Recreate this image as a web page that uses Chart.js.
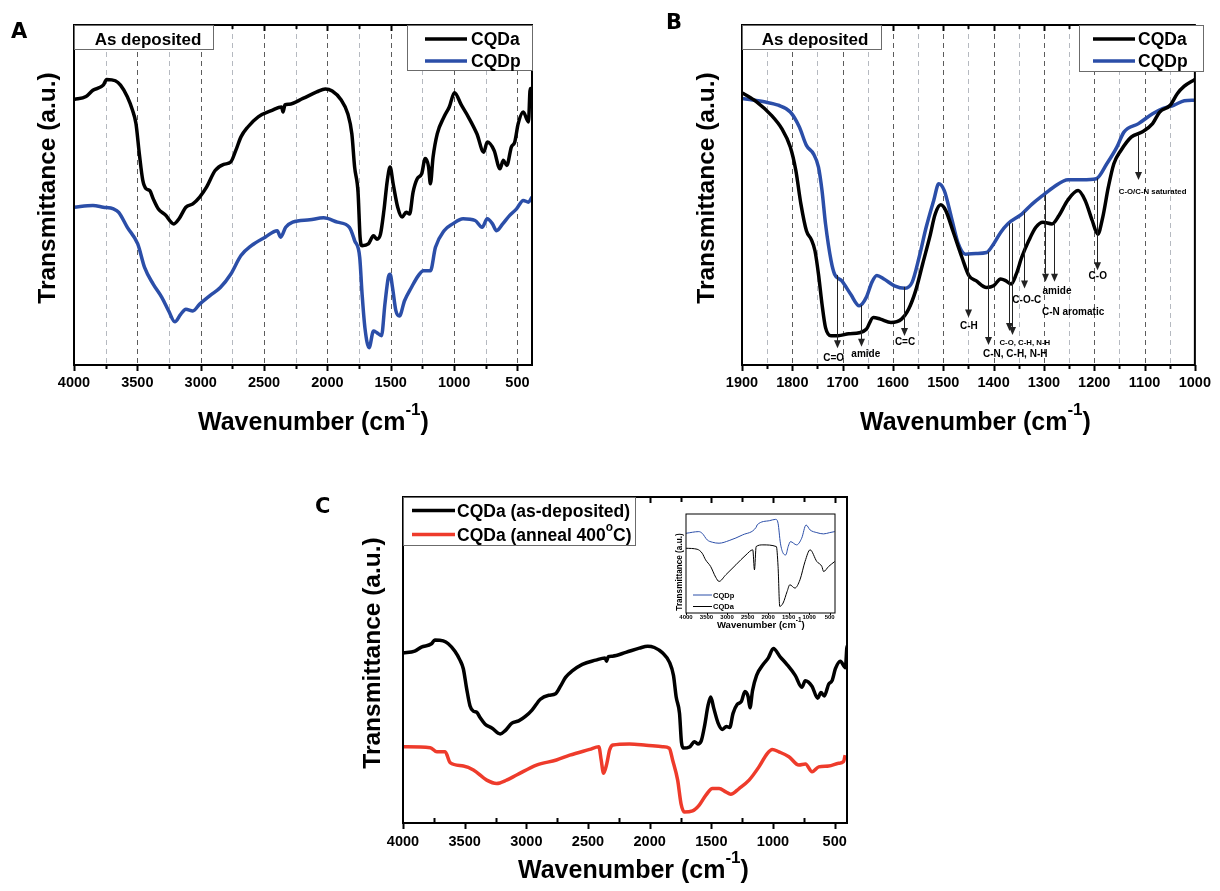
<!DOCTYPE html>
<html>
<head>
<meta charset="utf-8">
<script src="https://cdn.jsdelivr.net/npm/chart.js@4.4.0/dist/chart.umd.min.js"></script>
<style>
body { margin: 0; background: #fff; }
#page { position: relative; width: 1220px; height: 891px; }
#page canvas { position: absolute; left: 0; top: 0; }
</style>
</head>
<body>
<div id="page">
<canvas id="chartA" width="1220" height="891"></canvas>
<canvas id="chartB" width="1220" height="891"></canvas>
<canvas id="chartC" width="1220" height="891"></canvas>
<canvas id="chartInset" width="1220" height="891"></canvas>
</div>
<script>
// ---- tick labels
var ticksWide = [4000, 3500, 3000, 2500, 2000, 1500, 1000, 500];
var ticksNarrow = [1900, 1800, 1700, 1600, 1500, 1400, 1300, 1200, 1100, 1000];

// ---- panel A (and C black): CQDa as deposited, wavenumber / transmittance (a.u.)
var waveA_cqda = [4000, 3905, 3851, 3769, 3742, 3674, 3633, 3579, 3538, 3511, 3484, 3457, 3430, 3402, 3375, 3334, 3280, 3212, 3171, 3117, 3062, 3008, 2954, 2886, 2818, 2763, 2723, 2682, 2628, 2546, 2437, 2362, 2350, 2335, 2302, 2193, 2084, 2016, 1962, 1894, 1839, 1807, 1785, 1758, 1742, 1726, 1677, 1636, 1609, 1581, 1554, 1527, 1505, 1481, 1445, 1410, 1378, 1351, 1324, 1291, 1256, 1228, 1201, 1187, 1166, 1133, 1079, 1038, 997, 942, 888, 820, 766, 738, 684, 638, 611, 584, 548, 521, 494, 454, 413, 399, 385];
var transA_cqda = [78.1, 79, 80.8, 82.3, 84, 83.6, 82.3, 78.9, 74.9, 71, 62, 54.3, 51.8, 51.3, 48.9, 45.9, 44.2, 41.5, 43, 46.4, 47.4, 49.4, 52.3, 57.2, 59, 59.7, 63.1, 67.1, 70, 73, 74.9, 75.9, 74.4, 76.5, 76.7, 78.4, 80.3, 81.2, 80.6, 78.1, 73.9, 68, 58.2, 50.8, 37.6, 35.1, 35.6, 38, 37, 38.5, 45.4, 54.3, 58.2, 53.3, 46.4, 43.5, 44.9, 44.4, 50.8, 54.8, 56.2, 60.7, 58.2, 53.3, 61.1, 68, 73, 75.9, 80.1, 76.4, 73, 68, 62.6, 65.6, 63.1, 57.7, 60.2, 58.7, 64.1, 65.6, 71, 74.4, 71.5, 81.3, 80];

// ---- panel A: CQDp
var waveA_cqdp = [4000, 3851, 3769, 3688, 3647, 3579, 3497, 3443, 3375, 3307, 3253, 3204, 3158, 3117, 3062, 3008, 2927, 2845, 2763, 2682, 2600, 2491, 2396, 2369, 2329, 2274, 2139, 2030, 1921, 1826, 1785, 1745, 1726, 1704, 1671, 1636, 1609, 1573, 1546, 1519, 1505, 1486, 1459, 1432, 1391, 1337, 1282, 1242, 1187, 1147, 1079, 1011, 929, 834, 779, 738, 697, 665, 616, 561, 507, 454, 413, 385];
var transA_cqdp = [46.4, 46.9, 46.4, 45.9, 44.9, 40.5, 35.6, 28.7, 23.8, 19.9, 15.9, 12.7, 14.9, 16.4, 15.9, 17.9, 20.4, 22.8, 26.7, 32.2, 35.1, 37.6, 39.5, 37.6, 40.5, 42, 42.7, 43.3, 42, 40.5, 36.6, 31.7, 20.8, 11, 5.1, 10, 9.5, 8.6, 17.9, 25.8, 26.7, 22.8, 15.9, 14.4, 18.9, 22.8, 26.3, 27.7, 27.7, 34.6, 39.5, 41.5, 43, 42.5, 40.5, 43, 41.5, 39.5, 41.5, 44, 45.9, 48.4, 47.9, 49.4];

// ---- panel B: 1900-1000 cm-1
var waveB_cqda = [1899, 1871, 1842, 1821, 1804, 1793, 1783, 1772, 1762, 1755, 1748, 1741, 1734, 1723, 1709, 1688, 1667, 1653, 1639, 1625, 1604, 1583, 1569, 1555, 1541, 1527, 1516, 1505, 1495, 1481, 1463, 1449, 1435, 1414, 1400, 1386, 1376, 1365, 1355, 1344, 1330, 1316, 1302, 1284, 1270, 1253, 1232, 1218, 1204, 1193, 1183, 1172, 1161, 1147, 1126, 1105, 1084, 1070, 1049, 1035, 1021, 1000];
var transB_cqda = [80, 77.4, 73.5, 69.5, 64.1, 57.2, 47.4, 39.5, 36.8, 33.6, 26.7, 17.9, 11, 8.6, 8.6, 9.2, 9.5, 10.5, 14, 13.5, 12.5, 13.5, 16.4, 21.8, 29.7, 37.6, 44.4, 47.1, 45.4, 39.5, 31.7, 26.3, 24.8, 22.8, 23.3, 25.3, 24.8, 23.8, 26.7, 31.7, 36.6, 40.5, 42, 41.5, 44, 48.4, 51.3, 48.4, 42.5, 38.5, 43.5, 52.3, 59.2, 63.1, 67.1, 68.5, 71, 74.4, 76.4, 79.8, 82, 84];
var waveB_cqdp = [1899, 1856, 1828, 1804, 1786, 1772, 1758, 1748, 1741, 1734, 1723, 1716, 1702, 1684, 1667, 1653, 1642, 1632, 1618, 1597, 1576, 1562, 1548, 1534, 1519, 1509, 1498, 1484, 1470, 1456, 1435, 1414, 1400, 1386, 1372, 1344, 1323, 1302, 1281, 1252, 1224, 1196, 1175, 1155, 1141, 1112, 1084, 1063, 1042, 1021, 1000];
var transB_cqdp = [78.4, 77.4, 76.4, 74.4, 70, 64.6, 62.1, 58.2, 51.3, 41.5, 30.7, 26.7, 24.8, 20.8, 17.4, 19.9, 24.3, 26.3, 25.3, 23.3, 22.6, 24.3, 31.7, 40.5, 48.4, 53.3, 51.3, 43.5, 35.6, 32.6, 32.8, 33.1, 35.6, 39, 41.5, 44.4, 47.4, 49.9, 52.3, 54.5, 54.5, 54.8, 59.2, 64.1, 68.5, 71, 73.9, 75.5, 76.4, 77.7, 77.9];

// ---- panel B: band assignments (arrow at wavenumber, from / to transmittance)
var bandWave = [1711, 1663, 1578, 1450, 1411, 1369, 1363, 1339, 1298, 1279, 1194, 1114];
var bandFrom = [26.5, 17.6, 23, 32.4, 33.3, 41.7, 41.7, 45.1, 50, 41.7, 54.9, 67.6];
var bandTo = [4.9, 5.4, 8.5, 14, 5.9, 10, 8.8, 22.5, 24.5, 24.5, 27.9, 54.4];
var bandLabel = ['C=O', 'amide', 'C=C', 'C-H', 'C-N, C-H, N-H', 'C-O, C-H, N-H', 'C-O-C', 'amide', 'C-N aromatic', 'C-O', 'C-O/C-N saturated'];
var bandLabelWave = [1718, 1654, 1576, 1449, 1357, 1338, 1334, 1274, 1242, 1193, 1084];
var bandLabelY = [2, 3.1, 6.7, 11.3, 3.2, 6.6, 18.9, 21.8, 15.4, 26, 50.8];
var bandLabelSmall = [0, 0, 0, 0, 0, 1, 0, 0, 0, 0, 1];

// ---- panel C: CQDa annealed 400 C
var waveC_anneal = [4000, 3779, 3725, 3658, 3618, 3510, 3429, 3321, 3241, 3160, 3079, 2918, 2756, 2648, 2487, 2412, 2393, 2374, 2347, 2325, 2298, 2164, 2029, 1895, 1841, 1814, 1773, 1746, 1720, 1652, 1598, 1544, 1491, 1437, 1383, 1343, 1275, 1194, 1114, 1047, 1006, 952, 871, 790, 737, 683, 629, 548, 468, 428, 415];
var transC_anneal = [35.7, 35.3, 33.4, 33.4, 28.5, 27, 25.2, 20.6, 19.1, 20.6, 22.9, 27.4, 29.7, 31.9, 34.5, 35.7, 29.7, 23.7, 28.2, 34.2, 36.5, 37, 36.4, 35.7, 35, 29.7, 20.6, 10, 6.2, 6.7, 9.3, 13.8, 16.8, 16.8, 15.3, 14.2, 16.8, 20.6, 26.6, 32.6, 34.5, 33.4, 31.2, 27.4, 27.9, 24.4, 26.6, 27, 28.2, 29, 31.9];

// ---- inset of panel C
var waveIn_cqdp = [4000, 3688, 3606, 3482, 3359, 3195, 2948, 2620, 2291, 2266, 1962, 1815, 1757, 1700, 1634, 1569, 1511, 1453, 1305, 1182, 1075, 977, 813, 648, 500, 377];
var transIn_cqdp = [80.5, 82.2, 80.5, 73.8, 71.5, 70.5, 73.2, 78.9, 86.6, 89, 93.3, 94.6, 90.6, 70.5, 60.4, 58.7, 67.1, 72.1, 68.8, 75.5, 88.9, 83.9, 81.2, 79.9, 81.2, 82.2];
var waveIn_cqda = [4000, 3729, 3606, 3523, 3400, 3277, 3195, 3030, 2784, 2538, 2373, 2332, 2291, 2127, 1799, 1757, 1716, 1634, 1536, 1470, 1347, 1223, 1100, 977, 813, 690, 648, 525, 377];
var transIn_cqda = [65.4, 64.4, 60.4, 53.7, 47, 36.2, 31.9, 38.6, 48.7, 58.7, 63.8, 43.6, 67.1, 68.8, 67.1, 47, 6.7, 10.1, 21.8, 28.5, 25.2, 33.6, 52, 63.8, 52, 47, 41.9, 47, 52];

var FONT = "'Liberation Sans', Arial, sans-serif";
var BLACK = '#000000', BLUE = '#2b4ea8', RED = '#ee3b2b';

function pts(xs, ys) {
    return xs.map(function (x, i) { return { x: x, y: ys[i] }; });
}

function drawRich(ctx, parts, x, y, size, align, raise) {
    var widths = parts.map(function (p) {
        ctx.font = 'bold ' + (p[1] ? size * 0.68 : size) + 'px ' + FONT;
        return ctx.measureText(p[0]).width;
    });
    var total = widths.reduce(function (a, b) { return a + b; }, 0);
    var cx = align === 'center' ? x - total / 2 : x;
    ctx.textAlign = 'left';
    ctx.textBaseline = 'alphabetic';
    parts.forEach(function (p, i) {
        ctx.font = 'bold ' + (p[1] ? size * 0.68 : size) + 'px ' + FONT;
        ctx.fillText(p[0], cx, p[1] ? y - size * (raise || 0.6) : y);
        cx += widths[i];
    });
}

var panelPlugin = {
    id: 'panel',
    beforeDatasetsDraw: function (chart, args, o) {
        if (!o.gridStep) return;
        var ctx = chart.ctx, area = chart.chartArea, xs = chart.scales.x;
        ctx.save();
        ctx.lineWidth = 1;
        ctx.setLineDash([5, 4]);
        var start = Math.floor(xs.max / o.gridStep) * o.gridStep;
        for (var w = start; w > xs.min; w -= o.gridStep) {
            if (w >= xs.max) continue;
            var px = Math.round(xs.getPixelForValue(w)) + 0.5;
            ctx.strokeStyle = (w % o.gridMajor === 0) ? '#5c5c5c' : '#b5b9c0';
            ctx.beginPath();
            ctx.moveTo(px, area.top);
            ctx.lineTo(px, area.bottom);
            ctx.stroke();
        }
        ctx.restore();
    },
    afterDraw: function (chart, args, o) {
        var ctx = chart.ctx, area = chart.chartArea, xs = chart.scales.x, ys = chart.scales.y;
        ctx.save();
        ctx.fillStyle = '#000';
        ctx.strokeStyle = '#000';

        // tick marks
        ctx.lineWidth = o.tickWidth;
        var start = Math.floor(xs.max / o.tickStep) * o.tickStep;
        for (var w = start; w >= xs.min; w -= o.tickStep) {
            var px = Math.round(xs.getPixelForValue(w)) + 0.5;
            var major = (w % o.majorStep === 0);
            ctx.beginPath();
            if (major || !o.minorInside) {
                ctx.moveTo(px, area.bottom);
                ctx.lineTo(px, area.bottom + (major ? o.tickMajor : o.tickMinor));
            } else {
                ctx.moveTo(px, area.bottom);
                ctx.lineTo(px, area.bottom - o.tickMinor);
            }
            if (o.topTicks) {
                ctx.moveTo(px, area.top);
                ctx.lineTo(px, area.top + (major ? o.tickMajor : o.tickMinor));
            }
            ctx.stroke();
        }

        // frame
        ctx.lineWidth = o.frameWidth;
        ctx.strokeRect(area.left, area.top, area.right - area.left, area.bottom - area.top);

        // band assignment arrows
        if (o.bands) {
            ctx.lineWidth = 1;
            ctx.strokeStyle = '#222';
            ctx.fillStyle = '#222';
            bandWave.forEach(function (b, i) {
                var x = Math.round(xs.getPixelForValue(b)) + 0.5;
                var y0 = ys.getPixelForValue(bandFrom[i]);
                var y1 = ys.getPixelForValue(bandTo[i]);
                ctx.beginPath();
                ctx.moveTo(x, y0);
                ctx.lineTo(x, y1 - 7);
                ctx.stroke();
                ctx.beginPath();
                ctx.moveTo(x - 3.5, y1 - 8);
                ctx.lineTo(x + 3.5, y1 - 8);
                ctx.lineTo(x, y1);
                ctx.closePath();
                ctx.fill();
            });
            ctx.fillStyle = '#000';
            ctx.textAlign = 'center';
            ctx.textBaseline = 'middle';
            bandLabel.forEach(function (t, i) {
                ctx.font = 'bold ' + (bandLabelSmall[i] ? 7.8 : 10) + 'px ' + FONT;
                ctx.fillText(t, xs.getPixelForValue(bandLabelWave[i]), ys.getPixelForValue(bandLabelY[i]));
            });
        }

        // caption boxes
        (o.boxes || []).forEach(function (b) {
            ctx.fillStyle = '#fff';
            ctx.fillRect(b.x0, b.y0, b.x1 - b.x0, b.y1 - b.y0);
            ctx.strokeStyle = '#6b6b6b';
            ctx.lineWidth = 1;
            ctx.strokeRect(b.x0 + 0.5, b.y0 + 0.5, b.x1 - b.x0, b.y1 - b.y0);
            ctx.fillStyle = '#000';
            ctx.font = 'bold ' + b.size + 'px ' + FONT;
            ctx.textAlign = 'center';
            ctx.textBaseline = 'alphabetic';
            ctx.fillText(b.text, b.tx, b.ty);
        });

        // legend
        var lg = o.legend;
        if (lg) {
            if (lg.box) {
                ctx.fillStyle = '#fff';
                ctx.fillRect(lg.box[0], lg.box[1], lg.box[2] - lg.box[0], lg.box[3] - lg.box[1]);
                ctx.strokeStyle = '#6b6b6b';
                ctx.lineWidth = 1;
                ctx.strokeRect(lg.box[0] + 0.5, lg.box[1] + 0.5, lg.box[2] - lg.box[0], lg.box[3] - lg.box[1]);
            }
            chart.data.datasets.forEach(function (ds, i) {
                var row = lg.rows[i];
                ctx.strokeStyle = ds.borderColor;
                ctx.lineWidth = lg.lineWidth;
                ctx.beginPath();
                ctx.moveTo(lg.lineX0, row);
                ctx.lineTo(lg.lineX1, row);
                ctx.stroke();
                ctx.fillStyle = '#000';
                drawRich(ctx, ds.labelParts, lg.textX, row + lg.size * 0.36, lg.size, 'left', 0.55);
            });
        }

        // axis titles
        ctx.fillStyle = '#000';
        drawRich(ctx, [['Wavenumber (cm', 0], ['-1', 1], [')', 0]], o.xTitle.x, o.xTitle.y, o.xTitle.size, 'left', 0.6);
        ctx.save();
        ctx.translate(o.yTitle.x, o.yTitle.y);
        ctx.rotate(-Math.PI / 2);
        ctx.font = 'bold ' + o.yTitle.size + 'px ' + FONT;
        ctx.textAlign = 'center';
        ctx.textBaseline = 'alphabetic';
        ctx.fillText('Transmittance (a.u.)', 0, 0);
        ctx.restore();

        // panel letter
        if (o.letter) {
            ctx.font = 'bold ' + o.letter.size + "px 'DejaVu Sans', sans-serif";
            ctx.textAlign = 'left';
            ctx.textBaseline = 'alphabetic';
            ctx.fillText(o.letter.text, o.letter.x, o.letter.y);
        }
        ctx.restore();
    }
};

function makeChart(id, cfg) {
    var datasets = cfg.series.map(function (s) {
        return {
            label: s.name,
            labelParts: s.parts,
            data: s.data,
            borderColor: s.color,
            borderWidth: cfg.lineWidth,
            pointRadius: 0,
            fill: false,
            tension: 0.4,
            cubicInterpolationMode: 'monotone'
        };
    });
    return new Chart(document.getElementById(id).getContext('2d'), {
        type: 'line',
        data: { datasets: datasets },
        plugins: [panelPlugin],
        options: {
            responsive: false,
            animation: false,
            devicePixelRatio: 1,
            layout: { padding: { left: cfg.box.l, top: cfg.box.t, right: 1220 - cfg.box.r, bottom: 0 } },
            scales: {
                x: {
                    type: 'linear',
                    reverse: true,
                    min: cfg.xMin,
                    max: cfg.xMax,
                    afterBuildTicks: function (axis) {
                        axis.ticks = cfg.ticks.map(function (v) { return { value: v }; });
                    },
                    afterFit: function (axis) { axis.height = 891 - cfg.box.b; },
                    grid: { display: false, drawTicks: false },
                    border: { display: false },
                    ticks: {
                        color: '#000',
                        font: { family: FONT, size: cfg.tickSize, weight: 'bold' },
                        padding: cfg.tickPad,
                        maxRotation: 0,
                        autoSkip: false,
                        callback: function (v) { return String(v); }
                    }
                },
                y: { display: false, min: cfg.yMin, max: cfg.yMax }
            },
            plugins: {
                legend: { display: false },
                tooltip: { enabled: false },
                panel: cfg.panel
            }
        }
    });
}

// ---- A
makeChart('chartA', {
    box: { l: 74, t: 25, r: 532, b: 365 },
    xMin: 385, xMax: 4000, yMin: 0, yMax: 100,
    ticks: ticksWide, tickSize: 14.5, tickPad: 9, lineWidth: 3.5,
    series: [
        { name: 'CQDa', parts: [['CQDa', 0]], color: BLACK, data: pts(waveA_cqda, transA_cqda) },
        { name: 'CQDp', parts: [['CQDp', 0]], color: BLUE, data: pts(waveA_cqdp, transA_cqdp) }
    ],
    panel: {
        gridStep: 250, gridMajor: 500, tickStep: 250, majorStep: 500,
        tickMajor: 6, tickMinor: 4, tickWidth: 2, topTicks: true, frameWidth: 2,
        boxes: [{ x0: 74, y0: 25, x1: 213, y1: 49, text: 'As deposited', tx: 148, ty: 45, size: 17 }],
        legend: { box: [407, 25, 532, 70], rows: [39, 61], lineX0: 425, lineX1: 467, textX: 471, size: 17.5, lineWidth: 3.5 },
        xTitle: { x: 198, y: 430, size: 25 },
        yTitle: { x: 55, y: 188, size: 24.5 },
        letter: { text: 'A', x: 11, y: 38, size: 21 }
    }
});

// ---- B
makeChart('chartB', {
    box: { l: 742, t: 25, r: 1203, b: 365 },
    xMin: 1000, xMax: 1900, yMin: 0, yMax: 100,
    ticks: ticksNarrow, tickSize: 14.5, tickPad: 9, lineWidth: 3.5,
    series: [
        { name: 'CQDa', parts: [['CQDa', 0]], color: BLACK, data: pts(waveB_cqda, transB_cqda) },
        { name: 'CQDp', parts: [['CQDp', 0]], color: BLUE, data: pts(waveB_cqdp, transB_cqdp) }
    ],
    panel: {
        gridStep: 50, gridMajor: 100, tickStep: 50, majorStep: 100,
        tickMajor: 6, tickMinor: 4, tickWidth: 2, topTicks: true, frameWidth: 2,
        bands: true,
        boxes: [{ x0: 742, y0: 25, x1: 881, y1: 49, text: 'As deposited', tx: 815, ty: 45, size: 17 }],
        legend: { box: [1079, 25, 1203, 71], rows: [39, 61], lineX0: 1093, lineX1: 1135, textX: 1138, size: 17.5, lineWidth: 3.5 },
        xTitle: { x: 860, y: 430, size: 25 },
        yTitle: { x: 714, y: 188, size: 24.5 },
        letter: { text: 'B', x: 666, y: 29, size: 21 }
    }
});

// ---- C
makeChart('chartC', {
    box: { l: 403, t: 497, r: 847, b: 823 },
    xMin: 400, xMax: 4000, yMin: 1.2, yMax: 148.7,
    ticks: ticksWide, tickSize: 14.5, tickPad: 10, lineWidth: 3.5,
    series: [
        { name: 'CQDa (as-deposited)', parts: [['CQDa (as-deposited)', 0]], color: BLACK, data: pts(waveA_cqda, transA_cqda) },
        { name: 'CQDa (anneal 400 C)', parts: [['CQDa (anneal 400', 0], ['o', 1], ['C)', 0]], color: RED, data: pts(waveC_anneal, transC_anneal) }
    ],
    panel: {
        tickStep: 250, majorStep: 500,
        tickMajor: 6, tickMinor: 5, tickWidth: 2, topTicks: true, minorInside: true, frameWidth: 2,
        legend: { box: [403, 497, 635, 545], rows: [510.5, 534.5], lineX0: 412, lineX1: 455, textX: 457, size: 17.5, lineWidth: 3.5 },
        xTitle: { x: 518, y: 878, size: 25 },
        yTitle: { x: 380, y: 653, size: 24.5 },
        letter: { text: 'C', x: 315, y: 513, size: 21 }
    }
});

// ---- inset of C
makeChart('chartInset', {
    box: { l: 686, t: 514, r: 835, b: 613 },
    xMin: 370, xMax: 4000, yMin: 0, yMax: 100,
    ticks: ticksWide, tickSize: 6, tickPad: 0.5, lineWidth: 1,
    series: [
        { name: 'CQDp', parts: [['CQDp', 0]], color: BLUE, data: pts(waveIn_cqdp, transIn_cqdp) },
        { name: 'CQDa', parts: [['CQDa', 0]], color: BLACK, data: pts(waveIn_cqda, transIn_cqda) }
    ],
    panel: {
        tickStep: 500, majorStep: 500,
        tickMajor: 2, tickMinor: 2, tickWidth: 1, topTicks: false, frameWidth: 1,
        legend: { rows: [595, 606.5], lineX0: 693, lineX1: 712, textX: 713, size: 7.5, lineWidth: 1 },
        xTitle: { x: 717, y: 628, size: 9.5 },
        yTitle: { x: 682, y: 572, size: 8.2 }
    }
});
</script>
</body>
</html>
